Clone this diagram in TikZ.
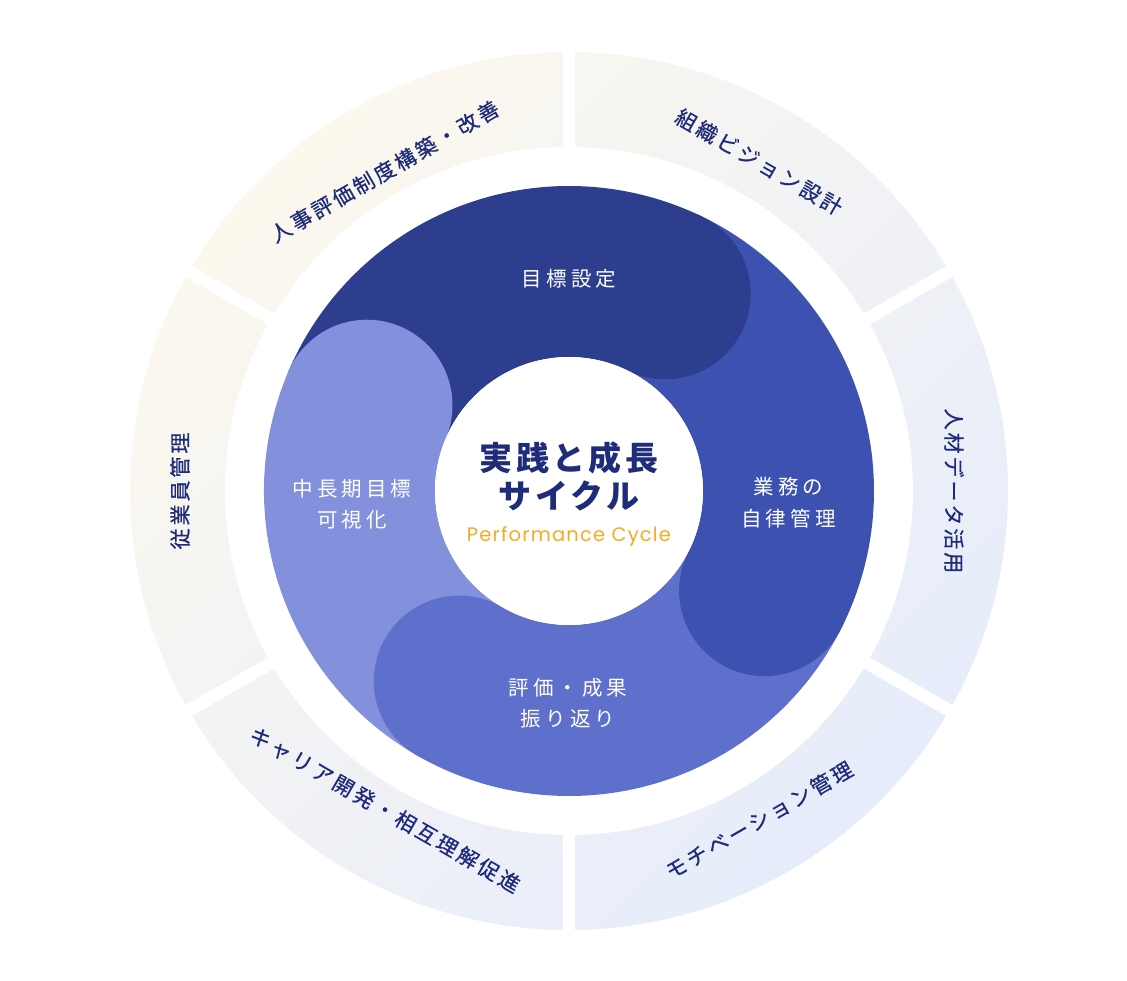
\documentclass[tikz,border=0pt]{standalone}
\usepackage{fontspec}
\newfontfamily\jpring{Noto Sans CJK JP}[LetterSpace=14, FakeBold=0.6]
\newfontfamily\jplabel{Noto Sans CJK JP}[LetterSpace=20]
\newfontfamily\jptitle{Noto Sans CJK JP}[LetterSpace=10]
\newfontfamily\perffont{Poppins}[LetterSpace=6]
\definecolor{ringcream}{HTML}{FCF8EE}
\definecolor{ringblue}{HTML}{E6ECFB}
\definecolor{ringink}{HTML}{1E2B78}
\definecolor{goalblue}{HTML}{2D3E8F}
\definecolor{autoblue}{HTML}{3D52B0}
\definecolor{evalblue}{HTML}{5E70CB}
\definecolor{visblue}{HTML}{8391DC}
\definecolor{titleink}{HTML}{1F2C7A}
\definecolor{perforange}{HTML}{F7AA22}
\tikzset{
  gapline/.style={white, line width=12.5},
  ringtext/.style={text=ringink, inner sep=0pt, font=\jpring\fontsize{21}{25}\selectfont},
  disklabel/.style={text=white, inner sep=0pt, align=center, font=\jplabel\fontsize{20.5}{31.5}\selectfont},
  captitle/.style={text=titleink, inner sep=0pt, align=center, font=\jptitle\bfseries\fontsize{33}{38}\selectfont},
  capsub/.style={text=perforange, inner sep=0pt, font=\perffont\fontsize{19.5}{22}\selectfont}
}

\begin{document}
\begin{tikzpicture}[x=1pt, y=1pt]
        \useasboundingbox (-569,-490) rectangle (558,491);
        \coordinate (O) at (0,0);
        \shade[even odd rule, top color=ringcream, bottom color=ringblue, shading angle=45] (O) circle (439) (O) circle (344);
        \foreach \a in {30,90,...,330}
            \draw[gapline] (\a:335) -- (\a:450);
        \foreach \s/\e/\c in {64/157/goalblue, 157/240/visblue, 240/333/evalblue, 333/424/autoblue}
            \fill[\c] (\s:305) arc[start angle=\s, end angle=\e, radius=305] -- (\e:134) arc[start angle=\e, end angle=\s, radius=134] -- cycle;
        \foreach \s/\c in {64/goalblue, 157/visblue, 240/evalblue, 333/autoblue}
            \fill[\c] (\s:219.5) circle (85.5);
        \fill[white] (O) circle (134);
        \node[ringtext, rotate=30] (hr) at (120:369) {人事評価制度構築・改善};
        \node[ringtext, rotate=-30] (vision) at (60:380) {組織ビジョン設計};
        \node[ringtext, rotate=-90] (data) at (0:385) {人材データ活用};
        \node[ringtext, rotate=30] (motiv) at (-60:380) {モチベーション管理};
        \node[ringtext, rotate=-30] (career) at (-120:368) {キャリア開発・相互理解促進};
        \node[ringtext, rotate=90] (staff) at (180:389) {従業員管理};
        \node[disklabel] (goal) at (0,212) {目標設定};
        \node[disklabel] (auto) at (219.5,-11.5) {業務の\\自律管理};
        \node[disklabel] (eval) at (-1,-212) {評価・成果\\振り返り};
        \node[disklabel] (vis) at (-217,-13) {中長期目標\\可視化};
        \node[captitle] (title) at (0,15) {実践と成長\\サイクル};
        \node[capsub] (perf) at (0,-46) {Performance Cycle};
    \end{tikzpicture}
\end{document}
